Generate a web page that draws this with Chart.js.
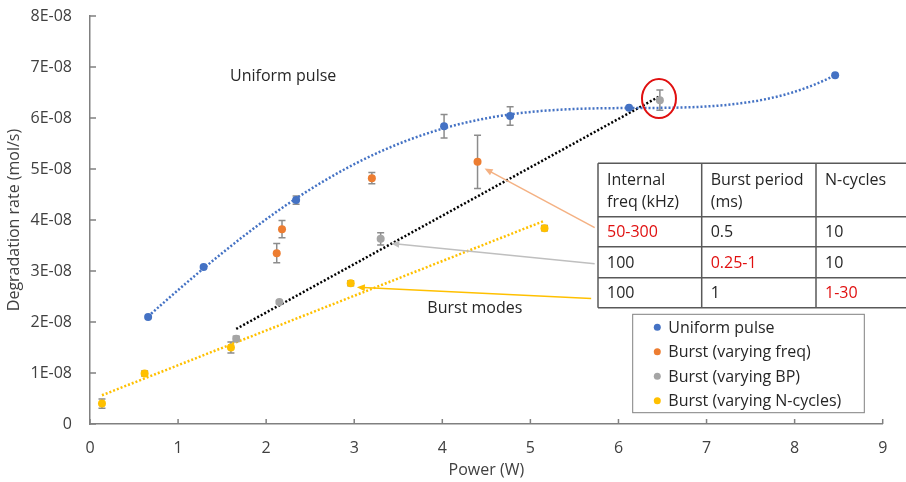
<!DOCTYPE html>
<html>
<head>
<meta charset="utf-8">
<title>Degradation rate vs power</title>
<script src="https://cdn.jsdelivr.net/npm/chart.js@4.4.1/dist/chart.umd.min.js"></script>
<style>
  body { margin: 0; background: #fff; }
  #wrap { width: 906px; height: 482px; position: relative; }
</style>
</head>
<body>
<div id="wrap"><canvas id="chart"></canvas></div>
<script>
/**
 *  Measured values (power in W, rate in mol/s, +/- error)
 */
var uniformX = [0.66, 1.29, 2.34, 4.02, 4.77, 6.12, 8.46];
var uniformY = [2.10e-8, 3.08e-8, 4.39e-8, 5.84e-8, 6.04e-8, 6.20e-8, 6.84e-8];
var uniformErr = [0, 0, 0.08e-8, 0.23e-8, 0.18e-8, 0, 0];

var freqX = [2.12, 2.18, 3.20, 4.40];
var freqY = [3.35e-8, 3.82e-8, 4.82e-8, 5.14e-8];
var freqErr = [0.19e-8, 0.17e-8, 0.11e-8, 0.52e-8];

var bpX = [1.66, 2.15, 3.30, 6.47];
var bpY = [1.67e-8, 2.39e-8, 3.63e-8, 6.35e-8];
var bpErr = [0.05e-8, 0.03e-8, 0.12e-8, 0.20e-8];

var cyclesX = [0.136, 0.62, 1.60, 2.96, 5.16];
var cyclesY = [0.40e-8, 0.99e-8, 1.50e-8, 2.76e-8, 3.84e-8];
var cyclesErr = [0.09e-8, 0.05e-8, 0.11e-8, 0.05e-8, 0.05e-8];

var seriesLabels = ["Uniform pulse", "Burst (varying freq)", "Burst (varying BP)", "Burst (varying N-cycles)"];
var seriesColors = ["#4472C4", "#ED7D31", "#A5A5A5", "#FFC000"];

var xTicks = [0, 1, 2, 3, 4, 5, 6, 7, 8, 9];

var tableRows = [
    ["Internal\nfreq (kHz)", "Burst period\n(ms)", "N-cycles"],
    ["50-300", "0.5", "10"],
    ["100", "0.25-1", "10"],
    ["100", "1", "1-30"]
];
// which cell of each row is the varied parameter (-1 = none)
var tableVaried = [-1, 0, 1, 2];

/**
 *  Trendlines (least squares, same as the spreadsheet ones)
 */
var polyFit = function (xs, ys, deg) {
    var n = deg + 1;
    var A = [], b = [];
    for (var i = 0; i < n; i++) {
        A.push([]);
        b.push(0);
        for (var j = 0; j < n; j++) {
            var s = 0;
            xs.forEach(function (x) { s += Math.pow(x, i + j); });
            A[i].push(s);
        }
        xs.forEach(function (x, k) { b[i] += ys[k] * 1e8 * Math.pow(x, i); });
    }
    for (var c = 0; c < n; c++) {
        for (var r = c + 1; r < n; r++) {
            var f = A[r][c] / A[c][c];
            for (var k = c; k < n; k++) A[r][k] -= f * A[c][k];
            b[r] -= f * b[c];
        }
    }
    var coef = new Array(n).fill(0);
    for (var r = n - 1; r >= 0; r--) {
        var s = b[r];
        for (var k = r + 1; k < n; k++) s -= A[r][k] * coef[k];
        coef[r] = s / A[r][r];
    }
    return coef;
};

var trend = function (xs, ys, deg, steps) {
    var coef = polyFit(xs, ys, deg);
    var lo = Math.min.apply(null, xs), hi = Math.max.apply(null, xs);
    var pts = [];
    for (var i = 0; i <= steps; i++) {
        var x = lo + (hi - lo) * i / steps;
        var y = 0;
        coef.forEach(function (c, p) { y += c * Math.pow(x, p); });
        pts.push({ x: x, y: y * 1e-8 });
    }
    return pts;
};

var toPoints = function (xs, ys) {
    return xs.map(function (x, i) { return { x: x, y: ys[i] }; });
};

var pointSet = function (idx, xs, ys) {
    return {
        label: seriesLabels[idx],
        data: toPoints(xs, ys),
        backgroundColor: seriesColors[idx],
        borderColor: seriesColors[idx],
        pointRadius: 4,
        pointBorderWidth: 0,
        showLine: false,
        order: 1
    };
};

var trendSet = function (color, pts) {
    return {
        label: "",
        data: pts,
        borderColor: color,
        borderWidth: 2.5,
        borderDash: [2, 2],
        pointRadius: 0,
        showLine: true,
        fill: false,
        order: 2
    };
};

var errors = [uniformErr, freqErr, bpErr, cyclesErr];

/**
 *  Extra drawing: error bars, inside ticks, notes, table, legend
 */
var decor = {
    id: "decor",
    beforeDatasetsDraw: function (chart) {
        var ctx = chart.ctx, ys = chart.scales.y, xs = chart.scales.x;
        ctx.save();
        ctx.strokeStyle = "#8C8C8C";
        ctx.lineWidth = 1.5;
        errors.forEach(function (errs, d) {
            chart.data.datasets[d].data.forEach(function (p, i) {
                if (!errs[i]) return;
                var px = xs.getPixelForValue(p.x);
                var top = ys.getPixelForValue(p.y + errs[i]);
                var bot = ys.getPixelForValue(p.y - errs[i]);
                ctx.beginPath();
                ctx.moveTo(px, top); ctx.lineTo(px, bot);
                ctx.moveTo(px - 3.5, top); ctx.lineTo(px + 3.5, top);
                ctx.moveTo(px - 3.5, bot); ctx.lineTo(px + 3.5, bot);
                ctx.stroke();
            });
        });
        ctx.restore();
    },
    afterDraw: function (chart) {
        var ctx = chart.ctx, xs = chart.scales.x, ys = chart.scales.y;
        var area = chart.chartArea;
        var X = function (v) { return xs.getPixelForValue(v); };
        var Y = function (v) { return ys.getPixelForValue(v); };
        ctx.save();

        // tick marks point into the plot
        ctx.strokeStyle = "#808080";
        ctx.lineWidth = 1.5;
        ctx.beginPath();
        xTicks.forEach(function (t) {
            ctx.moveTo(X(t), area.bottom);
            ctx.lineTo(X(t), area.bottom - 5);
        });
        ys.ticks.forEach(function (t) {
            ctx.moveTo(area.left, Y(t.value));
            ctx.lineTo(area.left + 6, Y(t.value));
        });
        ctx.stroke();

        var arrow = function (x1, y1, x2, y2, color) {
            var a = Math.atan2(y2 - y1, x2 - x1);
            ctx.strokeStyle = color;
            ctx.fillStyle = color;
            ctx.lineWidth = 1.5;
            ctx.beginPath();
            ctx.moveTo(x1, y1);
            ctx.lineTo(x2 - 6 * Math.cos(a), y2 - 6 * Math.sin(a));
            ctx.stroke();
            ctx.beginPath();
            ctx.moveTo(x2, y2);
            ctx.lineTo(x2 - 8 * Math.cos(a) + 3.5 * Math.sin(a), y2 - 8 * Math.sin(a) - 3.5 * Math.cos(a));
            ctx.lineTo(x2 - 8 * Math.cos(a) - 3.5 * Math.sin(a), y2 - 8 * Math.sin(a) + 3.5 * Math.cos(a));
            ctx.closePath();
            ctx.fill();
        };
        arrow(X(5.73), Y(3.85e-8), X(4.48), Y(5.01e-8), "#F4B183");
        arrow(X(5.73), Y(3.14e-8), X(3.42), Y(3.54e-8), "#BFBFBF");
        arrow(X(5.69), Y(2.46e-8), X(3.03), Y(2.68e-8), "#FFC000");

        // ring around the highlighted point
        ctx.strokeStyle = "#E01010";
        ctx.lineWidth = 2;
        ctx.beginPath();
        ctx.ellipse(X(6.46), Y(6.38e-8), 17, 19.5, 0, 0, Math.PI * 2);
        ctx.stroke();

        ctx.font = "16px 'Open Sans'";
        ctx.fillStyle = "#262626";
        ctx.textBaseline = "middle";
        ctx.textAlign = "left";
        ctx.fillText("Uniform pulse", X(1.59), Y(6.82e-8));
        ctx.fillText("Burst modes", X(3.83), Y(2.27e-8));

        // parameter table
        var colX = [598, 701.7, 816, 906];
        var rowY = [163.3, 216.7, 246.7, 277.7, 307.7];
        ctx.strokeStyle = "#595959";
        ctx.lineWidth = 1.5;
        ctx.beginPath();
        rowY.forEach(function (y) { ctx.moveTo(colX[0], y); ctx.lineTo(906, y); });
        colX.slice(0, 3).forEach(function (x) { ctx.moveTo(x, rowY[0]); ctx.lineTo(x, rowY[4]); });
        ctx.stroke();
        tableRows.forEach(function (row, r) {
            row.forEach(function (txt, c) {
                ctx.fillStyle = tableVaried[r] === c ? "#E01010" : "#262626";
                var lines = txt.split("\n");
                lines.forEach(function (line, k) {
                    var y = r === 0 ? 180 + k * 22 : (rowY[r] + rowY[r + 1]) / 2 + 1;
                    ctx.fillText(line, colX[c] + 9, y);
                });
            });
        });

        // legend box
        ctx.strokeStyle = "#808080";
        ctx.lineWidth = 1;
        ctx.strokeRect(632.7, 314.3, 231.6, 98.4);
        seriesLabels.forEach(function (lab, i) {
            var y = 327.3 + i * 24.5;
            ctx.fillStyle = seriesColors[i];
            ctx.beginPath();
            ctx.arc(657.3, y, 3.5, 0, Math.PI * 2);
            ctx.fill();
            ctx.fillStyle = "#262626";
            ctx.fillText(lab, 668.3, y + 1);
        });

        ctx.restore();
    }
};

Chart.defaults.font.family = "'Open Sans', sans-serif";
Chart.defaults.font.size = 16;
Chart.defaults.color = "#404040";

new Chart(document.getElementById("chart"), {
    type: "scatter",
    data: {
        datasets: [
            pointSet(0, uniformX, uniformY),
            pointSet(1, freqX, freqY),
            pointSet(2, bpX, bpY),
            pointSet(3, cyclesX, cyclesY),
            trendSet("#4472C4", trend(uniformX, uniformY, 4, 80)),
            trendSet("#000000", trend(bpX, bpY, 1, 1)),
            trendSet("#FFC000", trend(cyclesX, cyclesY, 1, 1))
        ]
    },
    options: {
        responsive: true,
        maintainAspectRatio: false,
        animation: false,
        events: [],
        layout: { padding: { left: 0, right: 23.3, top: 16, bottom: 0 } },
        plugins: { legend: { display: false }, tooltip: { enabled: false } },
        scales: {
            x: {
                type: "linear",
                min: 0,
                max: 9,
                afterBuildTicks: function (scale) {
                    scale.ticks = xTicks.map(function (v) { return { value: v }; });
                },
                afterFit: function (scale) { scale.height = 58; },
                grid: { drawOnChartArea: false, drawTicks: false },
                border: { color: "#808080", width: 1.5 },
                ticks: { padding: 15 },
                title: { display: true, text: "Power (W)", color: "#404040", padding: { top: 0, bottom: 2.4 } }
            },
            y: {
                type: "linear",
                min: 0,
                max: 8e-8,
                ticks: {
                    stepSize: 1e-8,
                    padding: 0,
                    callback: function (v) {
                        var n = Math.round(v * 1e8);
                        return n === 0 ? "0" : n + "E-08";
                    }
                },
                afterFit: function (scale) { scale.width = 90; },
                // invisible tick marks only hold the labels off the axis line
                grid: { drawOnChartArea: false, drawTicks: true, tickLength: 18, tickColor: "rgba(0,0,0,0)" },
                border: { color: "#808080", width: 1.5 },
                title: { display: true, text: "Degradation rate (mol/s)", color: "#404040", padding: { top: 5, bottom: 0 } }
            }
        }
    },
    plugins: [decor]
});
</script>
</body>
</html>
